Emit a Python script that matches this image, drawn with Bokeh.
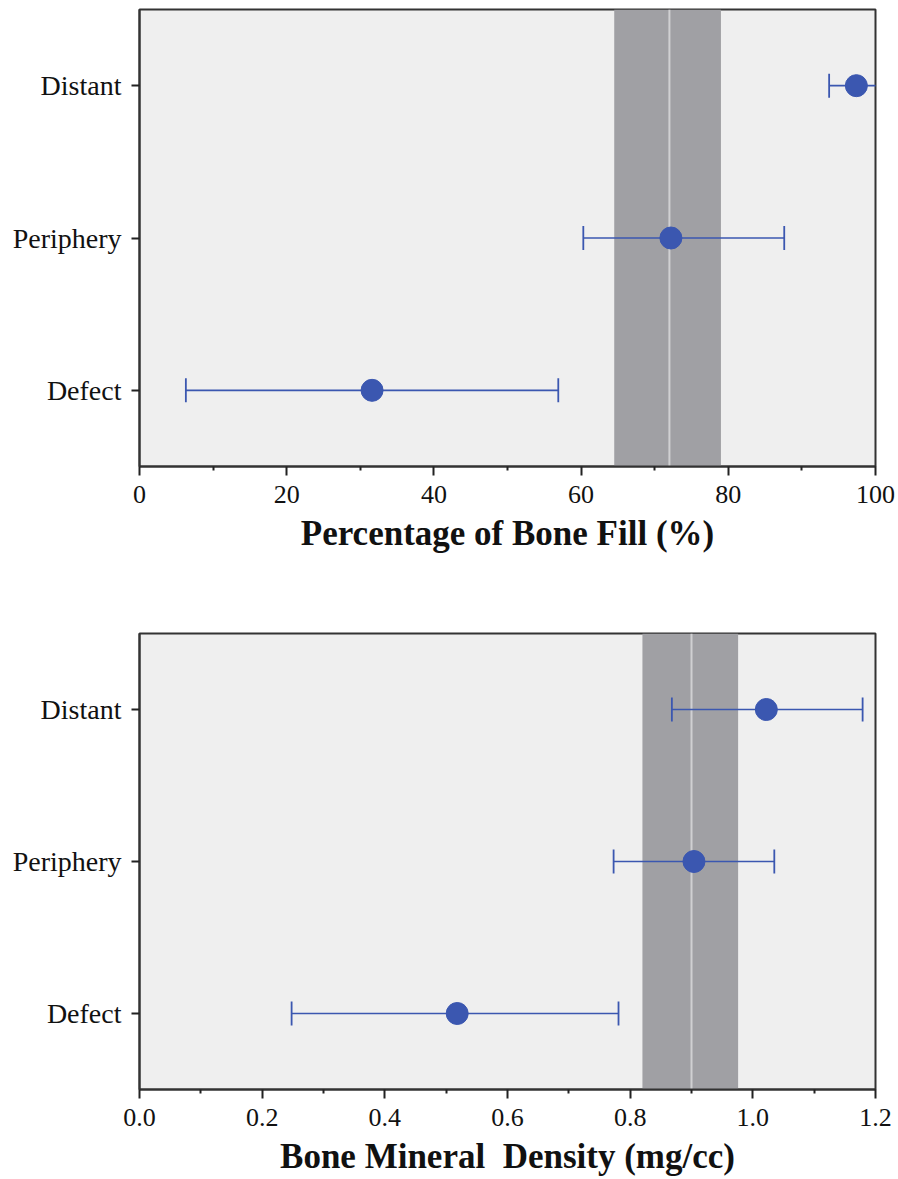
import math
from bokeh.plotting import figure
from bokeh.layouts import column
from bokeh.models import FixedTicker, BoxAnnotation, Span, ColumnDataSource, NumeralTickFormatter
from bokeh.embed import file_html
from bokeh.resources import INLINE

# ---- data ----
categories = ["Defect", "Periphery", "Distant"]

fill_mean = [31.6, 72.2, 97.4]
fill_lower = [6.3, 60.3, 93.7]
fill_upper = [56.9, 87.6, 101.1]
fill_ref_mean = 72.0
fill_ref_low = 64.5
fill_ref_high = 79.0
fill_ticks = [0, 20, 40, 60, 80, 100]
fill_minor = [10, 30, 50, 70, 90]

bmd_mean = [0.518, 0.904, 1.022]
bmd_lower = [0.248, 0.773, 0.868]
bmd_upper = [0.781, 1.035, 1.179]
bmd_ref_mean = 0.90
bmd_ref_low = 0.820
bmd_ref_high = 0.976
bmd_ticks = [0.0, 0.2, 0.4, 0.6, 0.8, 1.0, 1.2]
bmd_minor = [0.1, 0.3, 0.5, 0.7, 0.9, 1.1]

SERIF = "Liberation Serif"
BLUE = "#3b57b0"


def make_panel(mean, lower, upper, ref_mean, ref_low, ref_high, xmax, ticks, minor,
               xlabel, fmt, height, top, bottom):
    p = figure(width=898, height=height, y_range=categories, x_range=(0, xmax),
               output_backend="svg", toolbar_location=None,
               min_border_left=139, min_border_right=23,
               min_border_top=top, min_border_bottom=bottom)
    p.background_fill_color = "#efefef"
    p.border_fill_color = "white"
    p.outline_line_color = "#333333"
    p.outline_line_width = 2
    p.grid.visible = False

    p.add_layout(BoxAnnotation(left=ref_low, right=ref_high, fill_color="#a0a0a4",
                               fill_alpha=1.0, line_color=None, level="underlay"))
    p.add_layout(Span(location=ref_mean, dimension="height", line_color="#d0d0d2",
                      line_width=2, level="underlay"))

    src = ColumnDataSource(dict(cat=categories, mean=mean, lo=lower, hi=upper))
    p.segment(x0="lo", x1="hi", y0="cat", y1="cat", source=src,
              line_color=BLUE, line_width=1.6)
    p.scatter(x="lo", y="cat", source=src, marker="dash", angle=math.pi / 2,
              size=24, line_color=BLUE, line_width=1.8)
    p.scatter(x="hi", y="cat", source=src, marker="dash", angle=math.pi / 2,
              size=24, line_color=BLUE, line_width=1.8)
    p.scatter(x="mean", y="cat", source=src, marker="circle", size=22,
              fill_color=BLUE, line_color=BLUE)

    xa = p.xaxis[0]
    xa.ticker = FixedTicker(ticks=ticks, minor_ticks=minor)
    if fmt:
        xa.formatter = NumeralTickFormatter(format=fmt)
    xa.axis_line_color = "#333333"
    xa.axis_line_width = 2
    xa.major_tick_out = 9
    xa.major_tick_in = 0
    xa.minor_tick_out = 4
    xa.minor_tick_in = 0
    xa.major_tick_line_color = "#222222"
    xa.minor_tick_line_color = "#222222"
    xa.major_tick_line_width = 2
    xa.minor_tick_line_width = 2
    xa.major_label_text_font = SERIF
    xa.major_label_text_font_size = "26px"
    xa.major_label_text_color = "#111111"
    xa.major_label_standoff = 10
    xa.axis_label = xlabel
    xa.axis_label_text_font = SERIF
    xa.axis_label_text_font_style = "bold"
    xa.axis_label_text_font_size = "35px"
    xa.axis_label_text_color = "#111111"
    xa.axis_label_standoff = 8

    ya = p.yaxis[0]
    ya.axis_line_color = "#333333"
    ya.axis_line_width = 2
    ya.major_tick_out = 8
    ya.major_tick_in = 0
    ya.major_tick_line_color = "#222222"
    ya.major_tick_line_width = 2
    ya.major_label_text_font = SERIF
    ya.major_label_text_font_size = "28px"
    ya.major_label_text_color = "#111111"
    ya.major_label_standoff = 10
    return p


p1 = make_panel(fill_mean, fill_lower, fill_upper, fill_ref_mean, fill_ref_low,
                fill_ref_high, 100, fill_ticks, fill_minor,
                "Percentage of Bone Fill (%)", None, 590, 9, 124)
p2 = make_panel(bmd_mean, bmd_lower, bmd_upper, bmd_ref_mean, bmd_ref_low,
                bmd_ref_high, 1.2, bmd_ticks, bmd_minor,
                "Bone Mineral\u00a0 Density (mg/cc)", "0.0", 589, 43, 90)

layout = column(p1, p2, spacing=0)
open("out.html", "w").write(file_html(layout, INLINE))
